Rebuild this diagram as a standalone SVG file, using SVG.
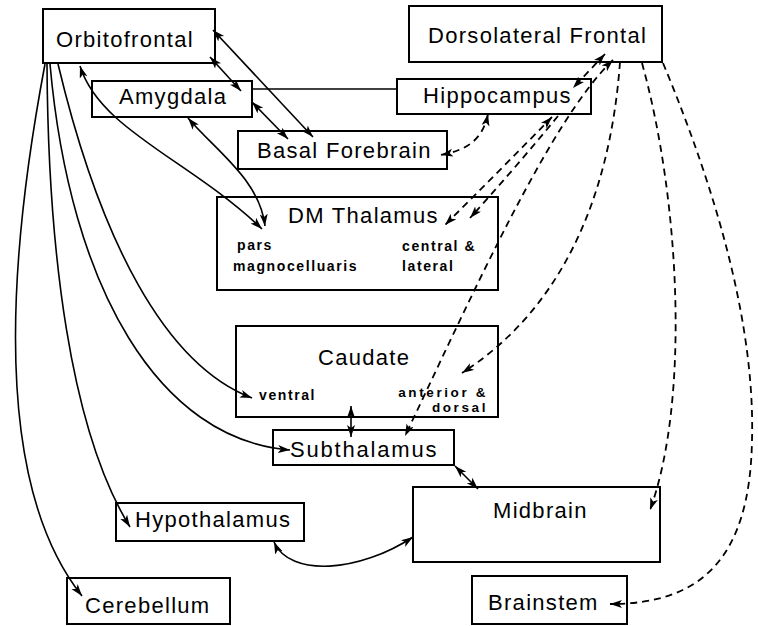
<svg xmlns="http://www.w3.org/2000/svg" width="758" height="626" viewBox="0 0 758 626">
<defs>
<marker id="ah" markerUnits="userSpaceOnUse" markerWidth="14" markerHeight="10" refX="12" refY="4" orient="auto-start-reverse">
<path d="M0,0 L12,4 L0,8 L3,4 z" fill="#000"/>
</marker>
</defs>
<style>
.box{fill:none;stroke:#000;stroke-width:2}
.lbl{font-family:"Liberation Sans",Arial,sans-serif;font-size:22px;letter-spacing:1.3px;fill:#000}
.sub{font-family:"Liberation Sans",Arial,sans-serif;font-size:14px;font-weight:bold;letter-spacing:1.6px;fill:#000}
.c{fill:none;stroke:#000;stroke-width:1.6}
.d{fill:none;stroke:#000;stroke-width:1.8;stroke-dasharray:7 5}
.b{marker-start:url(#ah);marker-end:url(#ah)}
.e{marker-end:url(#ah)}
</style>
<rect width="758" height="626" fill="#fff"/>
<g id="connectors">
<path class="c" d="M252,89 L397,89"/>
<path class="c b" d="M210,57 L241,91"/>
<path class="c b" d="M213,30 L313,137"/>
<path class="c b" d="M252,102 L288,139"/>
<path class="c b" d="M80,66 C100,130 190,160 262,229"/>
<path class="c b" d="M188,118 C215,150 260,180 265,226"/>
<path class="c e" d="M58,64 C100,240 165,365 252,398"/>
<path class="c e" d="M50,64 C70,290 160,440 290,450"/>
<path class="c e" d="M47,64 C48,250 70,430 130,527"/>
<path class="c e" d="M45,64 C10,250 -10,480 82,596"/>
<path class="c b" d="M351,406 L351,437"/>
<path class="c b" d="M455,466 L478,489"/>
<path class="c b" d="M274,542 C290,578 360,572 413,537"/>
<path class="d b" d="M605,54 L573,88"/>
<path class="d b" d="M488,114 C482,142 465,150 441,155"/>
<path class="d b" d="M552,117 C520,150 480,190 445,225"/>
<path class="d e" d="M558,116 C530,150 500,185 470,218"/>
<path class="d b" d="M613,60 C550,120 470,300 405,436"/>
<path class="d e" d="M620,62 C610,200 560,310 462,373"/>
<path class="d e" d="M642,63 C680,200 690,400 650,510"/>
<path class="d e" d="M663,63 C720,200 755,330 752,440 C750,560 700,604 610,604"/>
</g>
<g id="orbitofrontal"><rect class="box" x="43" y="9" width="172" height="54"/><text class="lbl" x="56" y="47">Orbitofrontal</text></g>
<g id="dorsolateral"><rect class="box" x="409" y="6" width="253" height="56"/><text class="lbl" x="428" y="43">Dorsolateral Frontal</text></g>
<g id="amygdala"><rect class="box" x="92" y="81" width="160" height="36"/><text class="lbl" x="119" y="104">Amygdala</text></g>
<g id="hippocampus"><rect class="box" x="397" y="79" width="194" height="35"/><text class="lbl" x="423" y="103">Hippocampus</text></g>
<g id="basal-forebrain"><rect class="box" x="238" y="131" width="209" height="38"/><text class="lbl" x="257" y="158">Basal Forebrain</text></g>
<g id="dm-thalamus"><rect class="box" x="217" y="197" width="281" height="93"/><text class="lbl" x="288" y="223">DM Thalamus</text>
<text class="sub" x="237" y="250">pars</text><text class="sub" x="233" y="271">magnocelluaris</text>
<text class="sub" x="402" y="251">central &amp;</text><text class="sub" x="402" y="271">lateral</text></g>
<g id="caudate"><rect class="box" x="236" y="326" width="262" height="91"/><text class="lbl" x="318" y="365">Caudate</text>
<text class="sub" x="259" y="400">ventral</text>
<text class="sub" x="488" y="397" text-anchor="end" style="font-size:13.5px;letter-spacing:2.6px">anterior &amp;</text>
<text class="sub" x="488" y="412" text-anchor="end" style="font-size:13.5px;letter-spacing:2.6px">dorsal</text></g>
<g id="subthalamus"><rect class="box" x="273" y="430" width="181" height="35"/><text class="lbl" x="290" y="457" style="letter-spacing:1.8px">Subthalamus</text></g>
<g id="midbrain"><rect class="box" x="413" y="487" width="247" height="75"/><text class="lbl" x="493" y="518">Midbrain</text></g>
<g id="hypothalamus"><rect class="box" x="116" y="503" width="188" height="38"/><text class="lbl" x="135" y="527">Hypothalamus</text></g>
<g id="cerebellum"><rect class="box" x="67" y="578" width="163" height="46"/><text class="lbl" x="85" y="613">Cerebellum</text></g>
<g id="brainstem"><rect class="box" x="472" y="576" width="155" height="48"/><text class="lbl" x="488" y="610">Brainstem</text></g>
</svg>
